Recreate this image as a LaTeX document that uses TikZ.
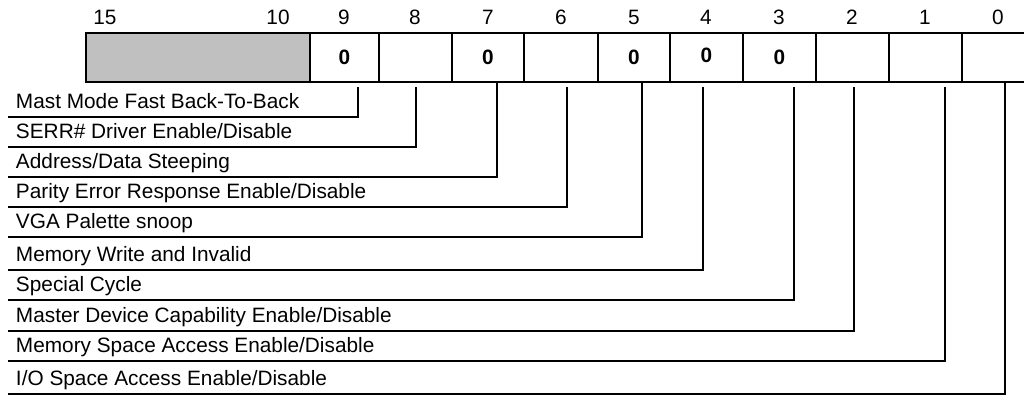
\documentclass[tikz,border=0pt]{standalone}
\usepackage{fontspec}
\setmainfont{Liberation Sans}
\definecolor{regfill}{RGB}{192,192,192}
\begin{document}
\begin{tikzpicture}[x=1pt,y=-1pt,line width=1.8pt,
  lbl/.style={anchor=base west,inner sep=0pt,outer sep=0pt,font=\fontsize{20.8}{24}\selectfont},
  bitnum/.style={inner sep=0pt,font=\fontsize{20.8}{24}\selectfont},
  bitval/.style={inner sep=0pt,font=\fontsize{20.8}{24}\selectfont\bfseries},
  cell/.style={draw,minimum height=49pt,inner sep=0pt,outer sep=0pt,line width=1.8pt},
  conn/.style={line width=1.8pt}]
\useasboundingbox (0,0) rectangle (1024,396);
% register cells
\node[cell,fill=regfill,minimum width=224pt] (cr) at (198,57.5) {};
\node[cell,minimum width=69pt] (c9) at (344.5,57.5) {};
\node[cell,minimum width=73pt] (c8) at (415.5,57.5) {};
\node[cell,minimum width=72pt] (c7) at (488,57.5) {};
\node[cell,minimum width=74pt] (c6) at (561,57.5) {};
\node[cell,minimum width=72pt] (c5) at (634,57.5) {};
\node[cell,minimum width=73pt] (c4) at (706.5,57.5) {};
\node[cell,minimum width=73pt] (c3) at (779.5,57.5) {};
\node[cell,minimum width=73pt] (c2) at (852.5,57.5) {};
\node[cell,minimum width=73pt] (c1) at (925.5,57.5) {};
\node[cell,minimum width=73pt] (c0) at (998.5,57.5) {};
% bit values
\node[bitval] (v9) at (344.5,57) {0};
\node[bitval] (v7) at (488,57) {0};
\node[bitval] (v5) at (634,57) {0};
\node[bitval] (v4) at (706.5,55) {0};
\node[bitval] (v3) at (779.5,57) {0};
% bit numbers
\node[bitnum] (n15) at (105,17) {15};
\node[bitnum] (n10) at (278,17) {10};
\node[bitnum] (n9) at (344,17) {9};
\node[bitnum] (n8) at (415,17) {8};
\node[bitnum] (n7) at (488,17) {7};
\node[bitnum] (n6) at (561,17) {6};
\node[bitnum] (n5) at (634,17) {5};
\node[bitnum] (n4) at (706,17) {4};
\node[bitnum] (n3) at (779,17) {3};
\node[bitnum] (n2) at (852,17) {2};
\node[bitnum] (n1) at (925,17) {1};
\node[bitnum] (n0) at (998,17) {0};
% descriptions and connectors
\foreach \b/\x/\ys/\yl/\t in {
  9/358/87/117/{Mast Mode Fast Back-To-Back},
  8/416/87/147/{SERR\# Driver Enable/Disable},
  7/497/82/177/{Address/Data Steeping},
  6/567/87/207/{Parity Error Response Enable/Disable},
  5/642/82/237/{VGA Palette snoop},
  4/703/87/270/{Memory Write and Invalid},
  3/794/87/300/{Special Cycle},
  2/854/87/331/{Master Device Capability Enable/Disable},
  1/945/87/361/{Memory Space Access Enable/Disable},
  0/1005/81/394/{I/O Space Access Enable/Disable}}{
  \coordinate (s\b) at (\x,\ys);
  \coordinate (e\b) at (8,\yl);
  \node[lbl] (d\b) at (16,\yl-9) {\t};
  \draw[conn] (s\b) |- (e\b);
}
\end{tikzpicture}
\end{document}
